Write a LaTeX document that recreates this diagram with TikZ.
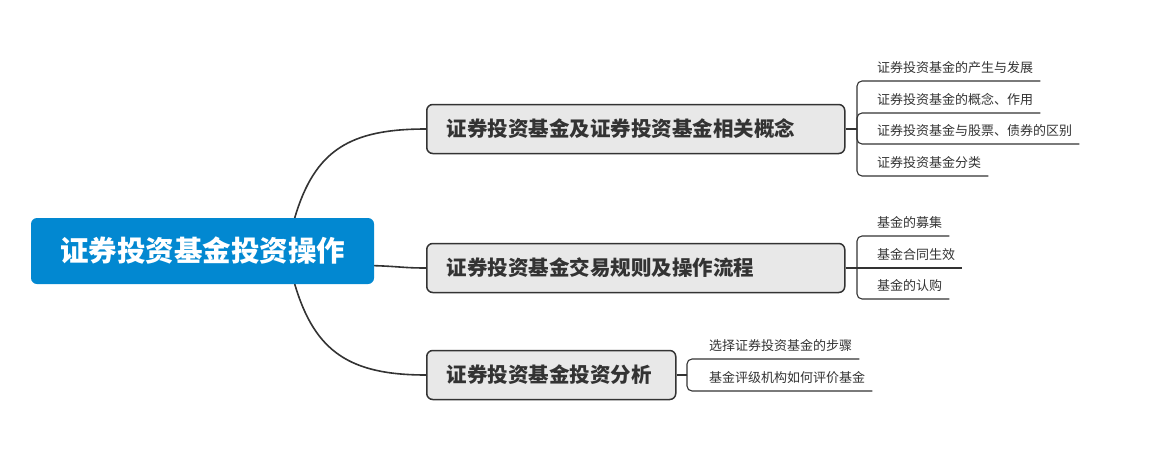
\documentclass[tikz,border=0pt]{standalone}
\usepackage{fontspec}
\newfontfamily\cjk{Noto Sans CJK SC}
\usetikzlibrary{calc,backgrounds}
\definecolor{rootblue}{RGB}{2,136,209}
\definecolor{boxgray}{RGB}{232,232,232}
\definecolor{ink}{RGB}{51,51,51}
\begin{document}
\begin{tikzpicture}[x=1pt,y=-1pt,
  rootnode/.style={fill=rootblue, rounded corners=6pt, minimum width=343pt, minimum height=66pt, inner sep=0pt, text=white, font=\cjk\bfseries\fontsize{28.5}{32}\selectfont},
  topic/.style={draw=ink, line width=1.5pt, fill=boxgray, rounded corners=6pt, anchor=west, minimum height=49pt, inner xsep=20pt, inner ysep=0pt, align=left, text=ink, font=\cjk\bfseries\fontsize{20.5}{24}\selectfont},
  subnode/.style={anchor=base west, inner sep=0pt, text=ink, font=\cjk\fontsize{13}{15}\selectfont},
  mainline/.style={draw=ink, line width=1.6pt},
  subline/.style={draw=ink, line width=1.1pt, rounded corners=5pt}]
\useasboundingbox (0,0) rectangle (1168,450);

% root and topics
\node[rootnode] (root) at (202.5,251) {证券投资基金投资操作};
\node[topic, text width=378pt] (t1) at (426,129) {证券投资基金及证券投资基金相关概念};
\node[topic, text width=378pt] (t2) at (426,268) {证券投资基金交易规则及操作流程};
\node[topic, text width=209pt] (t3) at (426,375) {证券投资基金投资分析};

% subtopics of t1
\node[subnode] (s11) at (877,72) {证券投资基金的产生与发展};
\node[subnode] (s12) at (877,104) {证券投资基金的概念、作用};
\node[subnode] (s13) at (877,135) {证券投资基金与股票、债券的区别};
\node[subnode] (s14) at (877,167) {证券投资基金分类};
% subtopics of t2
\node[subnode] (s21) at (877,227) {基金的募集};
\node[subnode] (s22) at (877,259) {基金合同生效};
\node[subnode] (s23) at (877,290) {基金的认购};
% subtopics of t3
\node[subnode] (s31) at (709,350) {选择证券投资基金的步骤};
\node[subnode] (s32) at (709,382) {基金评级机构如何评价基金};

% junctions
\coordinate (j1) at (857,129);
\coordinate (j2) at (857,268);
\coordinate (j3) at (687,375);
\coordinate (r1a) at (292.3,226);
\coordinate (r1) at (295,217);
\coordinate (r3a) at (292.3,276);
\coordinate (r3) at (295,285);
\coordinate (r2) at (360,265.3);

\begin{scope}[on background layer]
  \draw[mainline] (r1a) -- (r1) .. controls (315,150) and (350,129) .. (t1.west);
  \draw[mainline] (r2) .. controls (400,266) and (400,268) .. (t2.west);
  \draw[mainline] (r3a) -- (r3) .. controls (315,352) and (350,375) .. (t3.west);
\end{scope}

% trunks
\draw[subline] (t1.east) -- (j1);
\draw[subline] (t2.east) -- (j2);
\draw[subline] (t3.east) -- (j3);

% branches
\foreach \s in {s11,s12,s13,s14} {
  \draw[subline] (j1) |- ($(\s.base east)+(7,9)$);
}
\foreach \s in {s21,s23} {
  \draw[subline] (j2) |- ($(\s.base east)+(7,9)$);
}
\draw[subline] (j2) -- ($(s22.base east)+(7,9)$);
\foreach \s in {s31,s32} {
  \draw[subline] (j3) |- ($(\s.base east)+(7,9)$);
}
\end{tikzpicture}
\end{document}
